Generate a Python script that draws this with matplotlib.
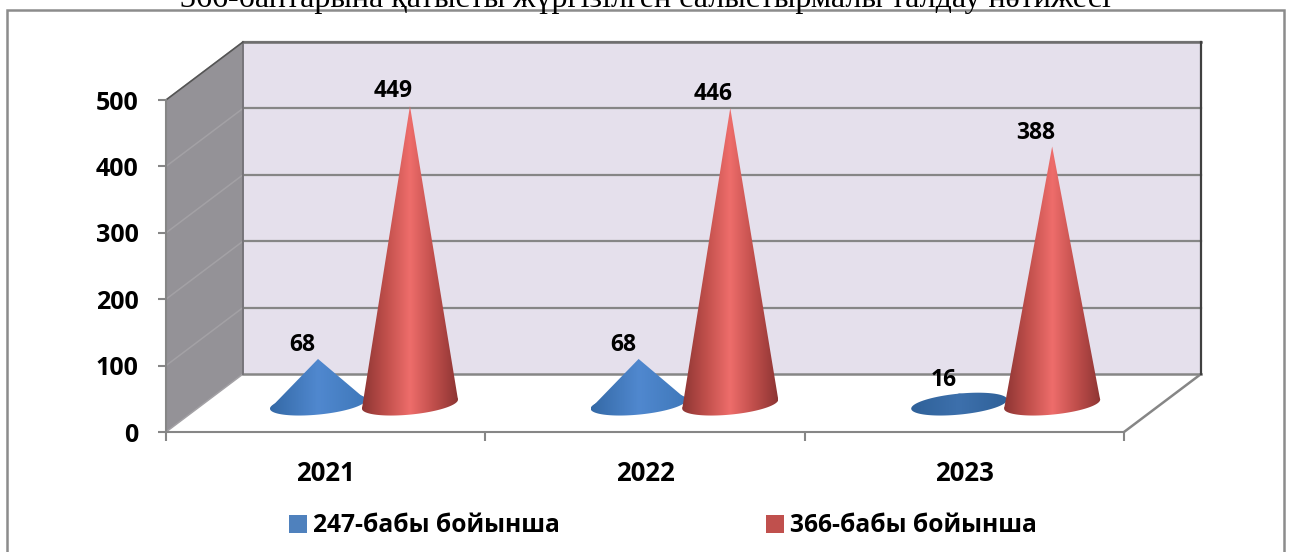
import matplotlib
matplotlib.use('Agg')
import matplotlib.pyplot as plt
import numpy as np
from matplotlib.colors import LinearSegmentedColormap
from matplotlib.patches import Polygon, Rectangle

# Data
years = ['2021', '2022', '2023']
series_names = ['247-бабы бойынша', '366-бабы бойынша']
values_247 = [68, 68, 16]
values_366 = [449, 446, 388]
y_ticks = [0, 100, 200, 300, 400, 500]
title = '366-баптарына қатысты жүргізілген салыстырмалы талдау нәтижесі'

W, H = 1289, 552
FONT = 'Open Sans'

fig = plt.figure(figsize=(W / 100, H / 100), dpi=100)

# front plane of the fake 3D box is the real axes
ax = fig.add_axes([166 / W, 1 - 432 / H, 958 / W, 332 / H])
ax.set_xlim(0, 3)
ax.set_ylim(0, 500)
ax.patch.set_alpha(0)

px_x = 958 / 3
px_y = 332 / 500
depth_x = 77 / px_x
depth_y = 58 / px_y

grey = '#868686'

# back wall, side wall, floor edges
back = Rectangle((depth_x, depth_y), 3, 500, fc='#e5e0ec', ec='none', clip_on=False, zorder=1)
ax.add_patch(back)
side = Polygon([(0, 0), (depth_x, depth_y), (depth_x, 500 + depth_y), (0, 500)],
               fc='#949297', ec='none', clip_on=False, zorder=1)
ax.add_patch(side)

for t in y_ticks[1:]:
    ax.plot([depth_x, 3 + depth_x], [t + depth_y, t + depth_y], color=grey, lw=1.6, clip_on=False, zorder=2)
for t in y_ticks:
    ax.plot([0, depth_x], [t, t + depth_y], color='#a3a1a5', lw=1.1, clip_on=False, zorder=2)

ax.plot([depth_x, 3 + depth_x], [depth_y, depth_y], color=grey, lw=1.8, clip_on=False, zorder=2)
ax.plot([3, 3 + depth_x], [0, depth_y], color=grey, lw=1.8, clip_on=False, zorder=2)
ax.plot([depth_x, 3 + depth_x], [500 + depth_y, 500 + depth_y], color='#6e6e6e', lw=1.8, clip_on=False, zorder=2)
ax.plot([3 + depth_x, 3 + depth_x], [depth_y, 500 + depth_y], color='#404040', lw=1.6, clip_on=False, zorder=2)
ax.plot([depth_x, depth_x], [depth_y, 500 + depth_y], color='#77757a', lw=1.4, clip_on=False, zorder=2)
ax.plot([0, depth_x], [500, 500 + depth_y], color='#555555', lw=1.2, clip_on=False, zorder=2)

blue_cmap = LinearSegmentedColormap.from_list('b', ['#3469a6', '#5088cf', '#3f78ba'])
flat_cmap = LinearSegmentedColormap.from_list('f', ['#2f6199', '#3d70ac', '#2f6199'])
red_cmap = LinearSegmentedColormap.from_list('r', ['#8d3533', '#c04f4b', '#ee6d6b', '#c04e4b', '#8d3533'])


def draw_cone(cx, value, cmap, z):
    half_w = 48 / px_x
    half_h = 10.5 / px_y
    base_y = 42
    tilt = 4.5 / px_y / half_w
    t = np.linspace(0, 2 * np.pi, 200)
    ex = cx + half_w * np.cos(t)
    ey = base_y + half_h * np.sin(t) + tilt * half_w * np.cos(t)
    left = (ex.min(), ey[np.argmin(ex)])
    right = (ex.max(), ey[np.argmax(ex)])
    shapes = [np.column_stack([ex, ey]), np.array([left, (cx, base_y + value), right])]
    grad = np.linspace(0, 1, 256).reshape(1, -1)
    for pts in shapes:
        poly = Polygon(pts, closed=True, fc='none', ec='none', transform=ax.transData)
        ax.add_patch(poly)
        im = ax.imshow(grad, cmap=cmap, aspect='auto', origin='lower', zorder=z,
                       extent=[cx - half_w, cx + half_w, 0, 500])
        im.set_clip_path(poly)


offsets_247 = [0.476, 1.48, 2.484]
offsets_366 = [0.764, 1.767, 2.775]
lift_366 = [23, 21, 20]
for i in range(len(years)):
    cmap = flat_cmap if values_247[i] < 30 else blue_cmap
    draw_cone(offsets_247[i], values_247[i], cmap, 3 + i)
    draw_cone(offsets_366[i], values_366[i], red_cmap, 4 + i)
    ax.text(offsets_247[i] - 0.048, 42 + values_247[i] + 21, str(values_247[i]), ha='center', va='center',
            fontsize=16.5, fontweight='bold', family=FONT, zorder=10)
    ax.text(offsets_366[i] - 0.053, 42 + values_366[i] + lift_366[i], str(values_366[i]), ha='center', va='center',
            fontsize=16.5, fontweight='bold', family=FONT, zorder=10)

ax.set_xlim(0, 3)
ax.set_ylim(0, 500)

# axes, ticks and labels
for s in ['top', 'right']:
    ax.spines[s].set_visible(False)
for s in ['left', 'bottom']:
    ax.spines[s].set_color(grey)
    ax.spines[s].set_linewidth(1.5)
ax.set_yticks(y_ticks)
ax.set_yticklabels([str(v) for v in y_ticks], fontsize=18, fontweight='bold', family=FONT)
ax.set_xticks([0, 1, 2, 3])
ax.set_xticklabels([])
ax.set_xticks([0.5, 1.5, 2.5], minor=True)
ax.set_xticklabels(years, minor=True, fontsize=18.5, fontweight='bold', family=FONT)
ax.tick_params(axis='y', length=5.8, width=1.5, color=grey, pad=14)
ax.tick_params(axis='x', which='major', length=6.5, width=1.5, color=grey, direction='out')
ax.tick_params(axis='x', which='minor', length=0, pad=20)

# chart frame and cut-off title
fig.add_artist(Rectangle((7 / W, -0.02), 1277 / W, 1 + 0.02 - 10 / H, fill=False, ec='#8c8c8c', lw=1.8,
                         transform=fig.transFigure))
fig.text(645 / W, 1 - 7 / H, title, ha='center', va='baseline', fontsize=23, family='Liberation Serif')

# legend
handles = [Rectangle((0, 0), 1, 1, fc='#4f81bd'), Rectangle((0, 0), 1, 1, fc='#c0504d')]
fig.legend(handles, series_names, loc='center', bbox_to_anchor=(663 / W, 1 - 526 / H), ncol=2, frameon=False,
           prop={'family': FONT, 'weight': 'bold', 'size': 17.7}, columnspacing=8.4, handlelength=0.73,
           handleheight=0.7, handletextpad=0.25)

fig.savefig('out.png', dpi=100)
